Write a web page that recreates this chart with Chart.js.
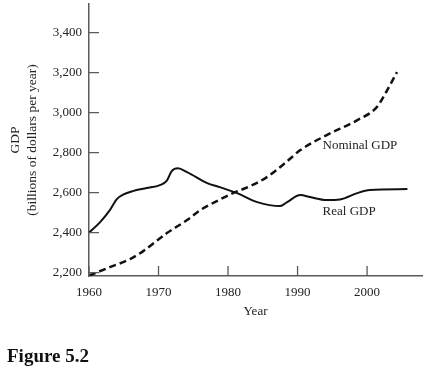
<!DOCTYPE html>
<html>
<head>
<meta charset="utf-8">
<title>Figure 5.2</title>
<script src="https://cdn.jsdelivr.net/npm/chart.js@4.4.1/dist/chart.umd.min.js"></script>
<style>
  html, body { margin: 0; padding: 0; background: #fff; }
  canvas { display: block; }
</style>
</head>
<body>
<canvas id="gdpChart" width="437" height="367"></canvas>
<script>
// values (billions of dollars per year)
const realYears = [1960, 1961.6, 1963, 1964, 1964.9, 1966.3, 1968.3, 1970.2, 1971.2, 1971.9, 1972.8, 1974.1, 1977, 1978.8, 1981.3, 1984.2, 1987.5, 1988.5, 1990.4, 1991.8, 1994.2, 1996.1, 1998.6, 2000.4, 2005.8];
const realValues = [2400, 2453, 2513, 2568, 2590, 2608, 2623, 2638, 2660, 2708, 2722, 2703, 2648, 2628, 2598, 2553, 2533, 2553, 2588, 2578, 2563, 2566, 2598, 2613, 2618];

const nominalYears = [1960, 1963, 1965.9, 1967.8, 1969.5, 1971.2, 1974.1, 1976, 1978.1, 1980.7, 1983.2, 1985.6, 1988.2, 1990.4, 1994.2, 1998.6, 2001.4, 2002.9, 2004.3];
const nominalValues = [2185, 2228, 2268, 2308, 2353, 2398, 2463, 2513, 2553, 2598, 2633, 2678, 2748, 2813, 2888, 2963, 3028, 3113, 3203];

const yearTicks = [1960, 1970, 1980, 1990, 2000];
const gdpTicks = [2200, 2400, 2600, 2800, 3000, 3200, 3400];

const serif = '"Liberation Serif", "DejaVu Serif", serif';
const axisColor = '#5a5a5a';
const inkColor = '#111';

const toPoints = (xs, ys) => xs.map((x, i) => ({ x: x, y: ys[i] }));

// short tick marks pointing into the plot, like the printed figure
const innerTicks = {
  id: 'innerTicks',
  afterDraw(chart) {
    const ctx = chart.ctx;
    const area = chart.chartArea;
    const xs = chart.scales.x, ys = chart.scales.y;
    ctx.save();
    ctx.strokeStyle = axisColor;
    ctx.lineWidth = 1.3;
    ctx.beginPath();
    yearTicks.forEach(t => {
      const px = xs.getPixelForValue(t);
      ctx.moveTo(px, area.bottom);
      ctx.lineTo(px, area.bottom - 10);
    });
    gdpTicks.forEach(t => {
      const py = ys.getPixelForValue(t);
      ctx.moveTo(area.left, py);
      ctx.lineTo(area.left + 10, py);
    });
    ctx.stroke();
    ctx.restore();
  }
};

const curveLabels = {
  id: 'curveLabels',
  afterDatasetsDraw(chart) {
    const ctx = chart.ctx;
    const xs = chart.scales.x, ys = chart.scales.y;
    ctx.save();
    ctx.fillStyle = '#222';
    ctx.font = '13px ' + serif;
    ctx.textAlign = 'left';
    ctx.textBaseline = 'middle';
    ctx.fillText('Nominal GDP', xs.getPixelForValue(1993.6), ys.getPixelForValue(2835));
    ctx.fillText('Real GDP', xs.getPixelForValue(1993.6), ys.getPixelForValue(2505));
    ctx.restore();
  }
};

const caption = {
  id: 'caption',
  afterDraw(chart) {
    const ctx = chart.ctx;
    ctx.save();
    ctx.fillStyle = '#111';
    ctx.font = 'bold 19px ' + serif;
    ctx.textAlign = 'left';
    ctx.textBaseline = 'alphabetic';
    ctx.fillText('Figure 5.2', 7, 362);
    ctx.restore();
  }
};

new Chart(document.getElementById('gdpChart'), {
  type: 'line',
  data: {
    datasets: [
      {
        label: 'Real GDP',
        data: toPoints(realYears, realValues),
        borderColor: inkColor,
        borderWidth: 2,
        pointRadius: 0,
        cubicInterpolationMode: 'monotone',
        fill: false
      },
      {
        label: 'Nominal GDP',
        data: toPoints(nominalYears, nominalValues),
        borderColor: inkColor,
        borderWidth: 2.5,
        borderDash: [7, 4],
        pointRadius: 0,
        cubicInterpolationMode: 'monotone',
        fill: false
      }
    ]
  },
  options: {
    responsive: false,
    animation: false,
    layout: { padding: { top: 4, right: 15, left: 0, bottom: 46 } },
    plugins: {
      legend: { display: false },
      tooltip: { enabled: false }
    },
    scales: {
      x: {
        type: 'linear',
        min: 1960,
        max: 2007.9,
        afterBuildTicks: s => { s.ticks = yearTicks.map(v => ({ value: v })); },
        afterFit: s => { s.height = 45; s.paddingRight = 0; },
        grid: { display: false, drawTicks: false },
        border: { display: true, color: axisColor, width: 1.5 },
        ticks: {
          color: '#222',
          padding: 9,
          maxRotation: 0,
          font: { family: serif, size: 13 },
          callback: v => String(v)
        },
        title: {
          display: true,
          text: 'Year',
          color: '#222',
          padding: { top: 0, bottom: 2 },
          font: { family: serif, size: 13 }
        }
      },
      y: {
        min: 2183.5,
        max: 3543.5,
        afterBuildTicks: s => { s.ticks = gdpTicks.map(v => ({ value: v })); },
        afterFit: s => { s.width = 89; s.paddingTop = 0; s.paddingBottom = 0; },
        grid: { display: false, drawTicks: false },
        border: { display: true, color: axisColor, width: 1.5 },
        ticks: {
          color: '#222',
          padding: 7,
          font: { family: serif, size: 13 },
          callback: v => v.toLocaleString('en-US')
        },
        title: {
          display: true,
          text: ['GDP', '(billions of dollars per year)'],
          color: '#222',
          padding: { top: 7, bottom: 0 },
          font: { family: serif, size: 13.5, lineHeight: 1.26 }
        }
      }
    }
  },
  plugins: [innerTicks, curveLabels, caption]
});
</script>
</body>
</html>
